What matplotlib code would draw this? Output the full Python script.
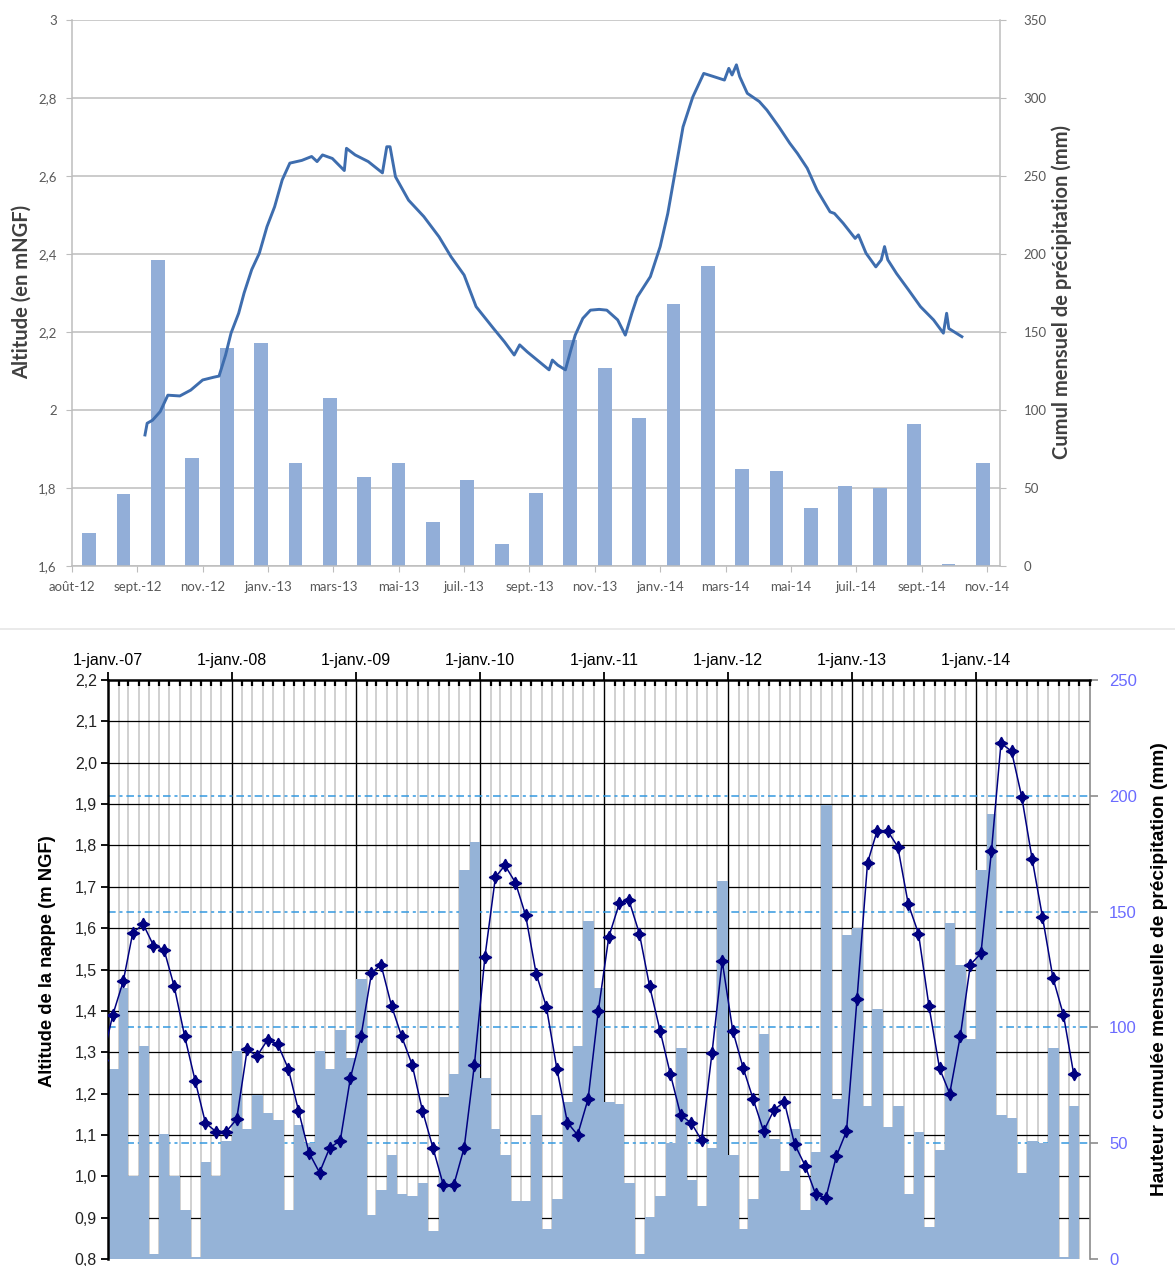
import numpy as np
import pandas as pd
import matplotlib
matplotlib.use("Agg")
import matplotlib.pyplot as plt
import matplotlib.dates as mdates
from matplotlib.transforms import blended_transform_factory
from matplotlib.lines import Line2D

# ---------------------------------------------------------------------------
# Data
# ---------------------------------------------------------------------------
# Monthly rainfall (mm), January 2007 -> November 2014
rain_months = pd.date_range("2007-01-01", "2014-11-01", freq="MS")
rain_mm = [
    82, 117, 36, 92, 2, 54, 36, 21, 1, 42, 36, 51,          # 2007
    90, 56, 71, 63, 60, 21, 58, 50, 90, 82, 99, 87,         # 2008
    121, 19, 30, 45, 28, 27, 33, 12, 70, 80, 168, 180,      # 2009
    78, 56, 45, 25, 25, 62, 13, 26, 68, 92, 146, 117,       # 2010
    68, 67, 33, 2, 18, 27, 50, 91, 34, 23, 48, 163,         # 2011
    45, 13, 26, 97, 52, 38, 56, 21, 46, 196, 69, 140,       # 2012
    143, 66, 108, 57, 66, 28, 55, 14, 47, 145, 127, 95,     # 2013
    168, 192, 62, 61, 37, 51, 50, 91, 1, 66, 0,             # 2014
]

# Monthly water-table level (m NGF), mid-month readings Dec 2006 -> Oct 2014
level_months = pd.date_range("2006-12-01", "2014-10-01", freq="MS") + pd.Timedelta(days=14)
level_m = [
    1.28,
    1.39, 1.472, 1.589, 1.609, 1.558, 1.548, 1.459, 1.338, 1.23, 1.129, 1.108, 1.108,
    1.138, 1.307, 1.291, 1.33, 1.319, 1.26, 1.159, 1.057, 1.009, 1.069, 1.086, 1.238,
    1.338, 1.491, 1.512, 1.412, 1.338, 1.269, 1.159, 1.069, 0.978, 0.978, 1.069, 1.269,
    1.53, 1.723, 1.752, 1.71, 1.631, 1.49, 1.41, 1.26, 1.13, 1.10, 1.187, 1.40,
    1.579, 1.66, 1.668, 1.587, 1.46, 1.352, 1.248, 1.147, 1.129, 1.087, 1.299, 1.52,
    1.352, 1.261, 1.187, 1.109, 1.16, 1.18, 1.078, 1.026, 0.957, 0.947, 1.048, 1.109,
    1.429, 1.758, 1.835, 1.835, 1.797, 1.658, 1.587, 1.411, 1.261, 1.2, 1.338, 1.512,
    1.539, 1.787, 2.047, 2.028, 1.918, 1.766, 1.628, 1.48, 1.39, 1.248,
]

# Piezometer record (m NGF), October 2012 -> October 2014
probe_dates = [
    "2012-10-07", "2012-10-09", "2012-10-14", "2012-10-21", "2012-10-28", "2012-11-08",
    "2012-11-18", "2012-11-29", "2012-12-09", "2012-12-14", "2012-12-20", "2012-12-25",
    "2013-01-01", "2013-01-06", "2013-01-13", "2013-01-20", "2013-01-27", "2013-02-03",
    "2013-02-10", "2013-02-17", "2013-02-28", "2013-03-09", "2013-03-14", "2013-03-19",
    "2013-03-28", "2013-04-08", "2013-04-10", "2013-04-18", "2013-04-30", "2013-05-13",
    "2013-05-17", "2013-05-20", "2013-05-25", "2013-06-06", "2013-06-20", "2013-07-04",
    "2013-07-15", "2013-07-27", "2013-08-07", "2013-08-23", "2013-09-02", "2013-09-11",
    "2013-09-16", "2013-09-23", "2013-10-13", "2013-10-16", "2013-10-21", "2013-10-28",
    "2013-11-02", "2013-11-06", "2013-11-13", "2013-11-20", "2013-11-28", "2013-12-05",
    "2013-12-15", "2013-12-22", "2013-12-28", "2014-01-02", "2014-01-14", "2014-01-23",
    "2014-01-30", "2014-02-06", "2014-02-13", "2014-02-22", "2014-03-04", "2014-03-13",
    "2014-03-23", "2014-03-27", "2014-03-30", "2014-04-03", "2014-04-06", "2014-04-13",
    "2014-04-24", "2014-05-01", "2014-05-12", "2014-05-22", "2014-05-29", "2014-06-07",
    "2014-06-16", "2014-06-28", "2014-07-02", "2014-07-10", "2014-07-21", "2014-07-24",
    "2014-07-31", "2014-08-09", "2014-08-14", "2014-08-17", "2014-08-20", "2014-08-28",
    "2014-09-08", "2014-09-19", "2014-10-01", "2014-10-10", "2014-10-13", "2014-10-15",
    "2014-10-27",
]
probe_m = [
    1.936, 1.966, 1.974, 1.996, 2.038, 2.036,
    2.051, 2.077, 2.084, 2.087, 2.141, 2.197,
    2.248, 2.300, 2.360, 2.402, 2.47, 2.521,
    2.59, 2.633, 2.64, 2.65, 2.637, 2.654,
    2.645, 2.614, 2.671, 2.654, 2.637, 2.608,
    2.675, 2.675, 2.598, 2.538, 2.496, 2.444,
    2.393, 2.346, 2.265, 2.209, 2.175, 2.141,
    2.167, 2.149, 2.103, 2.128, 2.115, 2.103,
    2.154, 2.192, 2.235, 2.256, 2.258, 2.256,
    2.231, 2.192, 2.248, 2.290, 2.342, 2.419,
    2.504, 2.615, 2.726, 2.803, 2.863, 2.855,
    2.846, 2.876, 2.859, 2.885, 2.855, 2.812,
    2.791, 2.769, 2.726, 2.684, 2.658, 2.62,
    2.564, 2.508, 2.504, 2.479, 2.44, 2.449,
    2.402, 2.367, 2.385, 2.419, 2.385, 2.35,
    2.308, 2.265, 2.231, 2.197, 2.248, 2.209,
    2.188,
]

# Rainfall months shown alongside the piezometer record (Aug 2012 -> Oct 2014)
recent_start, recent_end = "2012-08-01", "2014-10-01"
top_xlabels = ["août-12", "sept.-12", "nov.-12", "janv.-13", "mars-13", "mai-13",
               "juil.-13", "sept.-13", "nov.-13", "janv.-14", "mars-14", "mai-14",
               "juil.-14", "sept.-14", "nov.-14"]
year_labels = ["1-janv.-07", "1-janv.-08", "1-janv.-09", "1-janv.-10",
               "1-janv.-11", "1-janv.-12", "1-janv.-13", "1-janv.-14"]

# ---------------------------------------------------------------------------
W, H = 1175, 1266
fig = plt.figure(figsize=(W / 100, H / 100), dpi=100)
fig.patch.set_facecolor("white")


def px_box(x0, y0, x1, y1):
    return [x0 / W, 1 - y1 / H, (x1 - x0) / W, (y1 - y0) / H]


# ===================== upper chart =========================================
top_font = "Lato"
grey_txt = "#595959"
box_top = px_box(72, 20, 1000, 566)

axb1 = fig.add_axes(box_top)
axl1 = fig.add_axes(box_top)
axl1.patch.set_visible(False)

rain_series = pd.Series(rain_mm, index=rain_months)
recent = rain_series.loc[recent_start:recent_end]
cat = np.arange(len(recent))
axb1.bar(cat, recent.values, width=0.4, color="#92AED8", zorder=2, linewidth=0)
axb1.set_xlim(-0.5, len(recent) - 0.5)
axb1.set_ylim(0, 350)
axb1.set_yticks(np.arange(0, 351, 50))
axb1.yaxis.tick_right()
axb1.set_xticks([])
axb1.yaxis.grid(True, color="#BDBDBD", linewidth=1.1, zorder=0)
axb1.set_axisbelow(True)
for s in ["top", "left"]:
    axb1.spines[s].set_visible(False)
for s in ["right", "bottom"]:
    axb1.spines[s].set_color("#BDBDBD")
    axb1.spines[s].set_linewidth(1.1)
axb1.tick_params(axis="y", colors="#BDBDBD", labelcolor=grey_txt, labelsize=9.5,
                 length=4, pad=13)
for t in axb1.get_yticklabels():
    t.set_fontfamily(top_font)

pdates = pd.to_datetime(probe_dates)
axl1.plot(pdates, probe_m, color="#3E6DAE", linewidth=2.1, zorder=5,
          solid_joinstyle="round")
x0 = pd.Timestamp("2012-08-01")
axl1.set_xlim(x0, pd.Timestamp("2014-12-01"))
axl1.set_ylim(1.6, 3.0)
lv_ticks = np.round(np.arange(1.6, 3.01, 0.2), 1)
axl1.set_yticks(lv_ticks)
axl1.set_yticklabels([f"{v:g}".replace(".", ",") for v in lv_ticks])
tick_dates = [x0 + pd.Timedelta(days=60 * k) for k in range(len(top_xlabels))]
axl1.set_xticks(tick_dates)
axl1.set_xticklabels(top_xlabels)
for s in ["top", "right", "bottom"]:
    axl1.spines[s].set_visible(False)
axl1.spines["left"].set_color("#BDBDBD")
axl1.spines["left"].set_linewidth(1.1)
axl1.tick_params(axis="y", colors="#BDBDBD", labelcolor=grey_txt, labelsize=9.5,
                 length=4, pad=7)
axl1.tick_params(axis="x", colors="#BDBDBD", labelcolor=grey_txt, labelsize=9.5,
                 length=4, pad=7)
for t in axl1.get_yticklabels() + axl1.get_xticklabels():
    t.set_fontfamily(top_font)

fig.text(22 / W, 1 - 292 / H, "Altitude (en mNGF)", rotation=90, ha="center",
         va="center", fontsize=14.5, fontweight="bold", color="#404040",
         fontfamily=top_font)
fig.text(1062 / W, 1 - 292 / H, "Cumul mensuel de précipitation (mm)", rotation=90,
         ha="center", va="center", fontsize=14.5, fontweight="bold", color="#404040",
         fontfamily=top_font)

# thin separator between the two charts
fig.add_artist(Line2D([0, 1], [1 - 629 / H] * 2, color="#E6E6E6", linewidth=1.2))

# ===================== lower chart =========================================
low_font = "Liberation Sans"
box_bot = px_box(108, 680, 1089.6, 1259)
axb2 = fig.add_axes(box_bot)
axl2 = fig.add_axes(box_bot)
axl2.patch.set_visible(False)

t_start = mdates.date2num(pd.Timestamp("2007-01-01"))
t_end = mdates.date2num(pd.Timestamp("2014-12-01"))
month_edges = pd.date_range("2007-01-01", "2014-12-01", freq="MS")

axb2.set_xlim(t_start, t_end)
axb2.set_ylim(0, 250)

# month grid (grey) and year grid (black)
for d in month_edges[1:-1]:
    if d.month == 1:
        axb2.axvline(mdates.date2num(d), color="black", linewidth=1.0, zorder=1.2)
    else:
        axb2.axvline(mdates.date2num(d), color="#C4C4C4", linewidth=1.1, zorder=1.0)

# horizontal grid of the level axis
lvl_ticks = np.round(np.arange(0.8, 2.21, 0.1), 1)
tr = blended_transform_factory(axb2.transAxes, axl2.transData)
for v in lvl_ticks[1:-1]:
    axb2.plot([0, 1], [v, v], transform=tr, color="black", linewidth=0.9, zorder=1.3)

# dashed grid of the rainfall axis
rain_ticks = np.arange(0, 251, 50)
for r in rain_ticks[1:-1]:
    axb2.axhline(r, color="#3399E0", linewidth=1.1, zorder=1.4,
                 dashes=(5, 2.5, 2, 2.5))

# monthly rainfall columns
widths = [(b - a).days for a, b in zip(month_edges[:-1], month_edges[1:])]
axb2.bar(mdates.date2num(rain_months), rain_mm, width=widths, align="edge",
         color="#95B3D7", linewidth=0, zorder=2)

axb2.yaxis.tick_right()
axb2.set_yticks(rain_ticks)
axb2.set_xticks([])
for s in ["top", "left", "bottom"]:
    axb2.spines[s].set_visible(False)
axb2.spines["right"].set_color("#8C8C8C")
axb2.spines["right"].set_linewidth(1.2)
axb2.tick_params(axis="y", colors="#8C8C8C", labelcolor="#6B6BFF", labelsize=12,
                 length=6, width=1.2, pad=8)
for t in axb2.get_yticklabels():
    t.set_fontfamily(low_font)

# water-table level
axl2.plot(mdates.date2num(level_months), level_m, color="#000080", linewidth=1.1,
          marker=(4, 1, 0), markersize=9, markerfacecolor="#000080",
          markeredgecolor="#000080", zorder=5)
axl2.set_xlim(t_start, t_end)
axl2.set_ylim(0.8, 2.2)
axl2.set_yticks(lvl_ticks)
axl2.set_yticklabels([f"{v:.1f}".replace(".", ",") for v in lvl_ticks])
axl2.xaxis.tick_top()
year_starts = [mdates.date2num(pd.Timestamp(f"{y}-01-01")) for y in range(2007, 2015)]
axl2.set_xticks(year_starts)
axl2.set_xticklabels(year_labels)
axl2.set_xticks(mdates.date2num(month_edges), minor=True)
for s in ["right", "bottom"]:
    axl2.spines[s].set_visible(False)
for s in ["top", "left"]:
    axl2.spines[s].set_color("black")
    axl2.spines[s].set_linewidth(1.8)
axl2.tick_params(axis="x", which="major", direction="out", length=6, width=1.3,
                 colors="black", labelsize=11.5, pad=3)
axl2.tick_params(axis="x", which="minor", direction="in", length=4, width=1.6,
                 colors="black")
axl2.tick_params(axis="y", direction="out", length=5, width=1.3, colors="black",
                 labelcolor="#222222", labelsize=11.5, pad=3)
for t in axl2.get_yticklabels() + axl2.get_xticklabels():
    t.set_fontfamily(low_font)

fig.text(48 / W, 1 - 961 / H, "Altitude de la nappe (m NGF)", rotation=90,
         ha="center", va="center", fontsize=13.2, fontweight="bold", color="black",
         fontfamily=low_font)
fig.text(1160 / W, 1 - 969 / H, "Hauteur cumulée mensuelle de précipitation (mm)",
         rotation=90, ha="center", va="center", fontsize=13.8, fontweight="bold",
         color="black", fontfamily=low_font)

fig.savefig("out.png", dpi=100)
